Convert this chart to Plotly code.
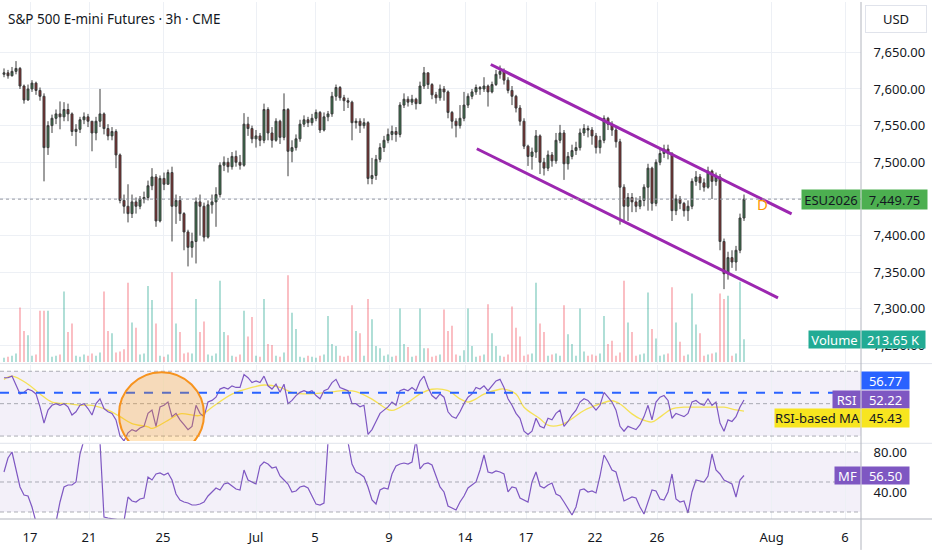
import plotly.graph_objects as go

# --- valores (barras de 3h) ---
first_open = 7620

closes = [
    7622, 7618, 7624, 7628, 7604, 7585, 7600, 7608, 7598, 7590,
    7520, 7550, 7560, 7566, 7562, 7572, 7566, 7542, 7545, 7558,
    7562, 7556, 7540, 7556, 7566, 7546, 7536, 7542, 7510, 7448,
    7440, 7430, 7446, 7440, 7450, 7452, 7468, 7480, 7420, 7478,
    7470, 7486, 7440, 7448, 7430, 7405, 7384, 7392, 7446, 7440,
    7398, 7442, 7446, 7456, 7496, 7500, 7494, 7508, 7500, 7496,
    7552, 7546, 7532, 7536, 7530, 7572, 7540, 7530, 7556, 7534,
    7572, 7515, 7520, 7532, 7552, 7558, 7554, 7560, 7568, 7544,
    7562, 7566, 7590, 7602, 7588, 7584, 7582, 7554, 7556, 7550,
    7554, 7478, 7482, 7504, 7520, 7530, 7538, 7542, 7538, 7578,
    7586, 7582, 7586, 7580, 7604, 7622, 7606, 7592, 7588, 7600,
    7596, 7568, 7556, 7550, 7560, 7578, 7590, 7596, 7602, 7600,
    7604, 7596, 7606, 7620, 7624, 7612, 7598, 7590, 7574, 7556,
    7522, 7508, 7514, 7536, 7500, 7492, 7510, 7502, 7530, 7540,
    7498, 7508, 7516, 7520, 7540, 7546, 7544, 7536, 7520, 7530,
    7560, 7552, 7544, 7528, 7466, 7440, 7452, 7446, 7440, 7448,
    7466, 7492, 7444, 7500, 7512, 7518, 7512, 7434, 7450, 7444,
    7434, 7440, 7474, 7480, 7472, 7466, 7488, 7474, 7480, 7392,
    7348, 7370, 7364, 7380, 7424, 7449.75,
]

highs = [
    7628, 7626, 7630, 7638, 7630, 7606, 7606, 7612, 7610, 7602,
    7594, 7556, 7565, 7572, 7583, 7582, 7580, 7568, 7552, 7562,
    7568, 7566, 7556, 7562, 7600, 7568, 7552, 7548, 7545, 7512,
    7456, 7470, 7456, 7452, 7454, 7460, 7475, 7492, 7484, 7482,
    7486, 7490, 7494, 7456, 7454, 7432, 7408, 7404, 7452, 7456,
    7445, 7448, 7456, 7466, 7500, 7508, 7506, 7514, 7516, 7510,
    7567, 7562, 7550, 7544, 7540, 7580, 7575, 7548, 7560, 7558,
    7594, 7574, 7530, 7538, 7558, 7564, 7562, 7566, 7572, 7570,
    7568, 7570, 7596, 7606, 7604, 7592, 7588, 7584, 7560, 7560,
    7560, 7556, 7506, 7510, 7526, 7536, 7546, 7550, 7548, 7582,
    7594, 7590, 7592, 7588, 7610, 7630, 7622, 7608, 7596, 7606,
    7604, 7598, 7570, 7560, 7578, 7596, 7594, 7600, 7606, 7604,
    7616, 7606, 7610, 7626, 7632, 7628, 7616, 7604, 7592, 7578,
    7560, 7524, 7520, 7544, 7538, 7506, 7516, 7514, 7540, 7551,
    7544, 7514, 7524, 7528, 7546, 7552, 7550, 7548, 7540, 7536,
    7564, 7562, 7556, 7548, 7532, 7470, 7458, 7458, 7452, 7454,
    7470, 7498, 7494, 7504, 7518, 7524, 7524, 7514, 7456, 7454,
    7446, 7448, 7478, 7488, 7484, 7478, 7494, 7490, 7486, 7484,
    7396, 7378, 7380, 7386, 7430, 7456,
]

lows = [
    7616, 7614, 7617, 7620, 7600, 7580, 7584, 7596, 7592, 7584,
    7474, 7510, 7540, 7552, 7545, 7556, 7556, 7536, 7522, 7540,
    7552, 7548, 7515, 7530, 7548, 7538, 7530, 7530, 7492, 7444,
    7430, 7418, 7424, 7430, 7436, 7444, 7448, 7462, 7412, 7418,
    7462, 7472, 7392, 7416, 7420, 7380, 7358, 7370, 7362, 7400,
    7392, 7396, 7430, 7412, 7452, 7488, 7486, 7490, 7494, 7490,
    7494, 7536, 7526, 7520, 7522, 7526, 7530, 7520, 7528, 7525,
    7530, 7481, 7500, 7516, 7528, 7548, 7548, 7550, 7556, 7540,
    7542, 7556, 7562, 7584, 7584, 7570, 7574, 7530, 7546, 7540,
    7546, 7470, 7470, 7476, 7500, 7514, 7526, 7530, 7528, 7534,
    7574, 7576, 7578, 7572, 7580, 7600, 7600, 7586, 7580, 7584,
    7584, 7560, 7546, 7534, 7546, 7556, 7574, 7586, 7592, 7592,
    7596, 7576, 7594, 7604, 7614, 7606, 7594, 7578, 7568, 7550,
    7518, 7495, 7490, 7506, 7484, 7482, 7488, 7494, 7498, 7526,
    7476, 7490, 7504, 7510, 7516, 7536, 7534, 7524, 7512, 7512,
    7526, 7544, 7536, 7520, 7415, 7420, 7420, 7432, 7432, 7436,
    7440, 7434, 7434, 7440, 7496, 7506, 7504, 7420, 7428, 7436,
    7426, 7420, 7436, 7468, 7462, 7460, 7464, 7450, 7468, 7380,
    7327, 7340, 7356, 7352, 7376, 7420,
]

# volume em milhares de contratos
volume_k = [
    40, 50, 60, 80, 510, 290, 250, 60, 70, 480,
    480, 480, 50, 60, 70, 660, 280, 360, 60, 50,
    70, 60, 80, 60, 90, 660, 290, 270, 90, 100,
    120, 740, 370, 320, 70, 80, 710, 580, 360, 60,
    50, 70, 840, 360, 280, 80, 90, 80, 590, 280,
    380, 70, 60, 80, 760, 280, 250, 60, 50, 70,
    480, 240, 420, 60, 50, 590, 170, 160, 60, 50,
    90, 810, 460, 310, 50, 40, 60, 50, 40, 60,
    70, 430, 170, 150, 60, 50, 60, 530, 290, 270,
    60, 590, 400, 150, 130, 60, 70, 50, 60, 500,
    170, 140, 50, 60, 500, 130, 130, 50, 60, 70,
    490, 290, 340, 70, 60, 110, 500, 150, 50, 60,
    70, 540, 270, 150, 60, 50, 70, 520, 320, 240,
    60, 70, 80, 740, 360, 280, 60, 70, 80, 60,
    530, 260, 170, 60, 500, 100, 60, 70, 60, 80,
    430, 170, 200, 60, 90, 760, 370, 280, 60, 70,
    80, 650, 310, 220, 60, 70, 80, 700, 370, 190,
    60, 70, 640, 350, 270, 60, 70, 80, 90, 640,
    590, 620, 60, 80, 750, 213.65,
]

rsi = [
    66, 66, 67, 62, 56, 57, 59, 58, 56, 48,
    38, 46, 49, 50, 49, 50, 48, 43, 45, 49,
    50, 47, 43, 50, 53, 47, 45, 44, 40, 30,
    27, 32, 34, 33, 35, 36, 44, 46, 36, 48,
    49, 51, 42, 44, 40, 37, 34, 36, 49, 44,
    42, 51, 52, 54, 59, 60, 59, 61, 60, 60,
    68, 66, 63, 64, 63, 67, 61, 59, 62, 57,
    62, 50, 52, 55, 57, 58, 57, 58, 55, 53,
    58, 59, 63, 65, 60, 59, 58, 50, 50, 48,
    49, 31, 34, 39, 44, 46, 48, 51, 49, 58,
    59, 58, 60, 58, 64, 67, 60, 55, 53, 56,
    54, 45, 42, 41, 45, 50, 54, 56, 60, 59,
    61, 58, 61, 64, 65, 60, 53, 49, 44, 41,
    33, 31, 33, 41, 36, 35, 41, 40, 44, 46,
    36, 39, 43, 46, 51, 53, 52, 49, 46, 49,
    57, 54, 51, 46, 36, 33, 36, 35, 34, 37,
    42, 49, 40, 51, 54, 55, 52, 41, 44, 43,
    42, 44, 51, 52, 50, 49, 53, 49, 51, 38,
    33, 40, 39, 42, 48, 52.22,
]

# media do RSI (linha amarela), lida em alguns pontos
rsi_ma_idx = [
    0, 2, 6, 9, 12, 16, 19, 22, 26, 29, 32, 36, 37, 41, 44, 49, 52, 57, 62, 65,
    69, 72, 76, 81, 85, 88, 92, 95, 97, 101, 104, 107, 111, 114, 116, 118, 120, 124, 125, 128,
    130, 134, 136, 139, 142, 145, 149, 152, 154, 157, 159, 162, 164, 167, 170, 174, 177, 180, 183, 185,
]
rsi_ma = [
    65, 67, 62, 56, 51, 50, 49, 49, 46, 42, 37.7, 35.7, 34.7, 39.7, 43.7, 42.7, 47.8, 55.9, 60, 61.5,
    60, 57, 56, 57, 58, 57.5, 52.8, 47.8, 45.8, 50.8, 56, 58.9, 58, 53, 51, 53, 55.9, 58.9, 59, 56,
    47.8, 40.7, 36.7, 36.7, 40.7, 45.8, 49.8, 51.8, 49.8, 43.7, 40.7, 38.7, 41.7, 46.8, 47.8, 47.8, 47.8, 47.8, 46.2, 45.43,
]

mf = [
    60, 74, 80, 62, 45, 37, 36, 25, 10, 6,
    4, 5, 7, 10, 30, 45, 47, 47, 50, 78,
    92, 95, 94, 96, 90, 15, 14, 13.5, 13, 12,
    11, 35, 31, 30, 33, 34, 55, 52, 58, 59,
    57, 59, 52, 38, 32, 30, 29, 27, 27, 28,
    30, 36, 40, 44, 42, 48, 49, 46, 43, 42,
    62, 52, 50, 48, 66, 70, 68, 64, 65, 56,
    52, 48, 40, 41, 45, 46, 44, 36, 28, 27,
    29, 90, 95, 96, 94, 95, 90, 68, 60, 58,
    55, 45, 32, 28, 42, 44, 43, 58, 66, 68,
    69, 68, 70, 92, 63, 68, 69, 67, 55, 45,
    40, 26, 24, 22, 30, 36, 44, 47, 50, 62,
    77, 60, 59, 61, 60, 58, 40, 45, 44, 34,
    32, 30, 50, 60, 46, 44, 47, 49, 38, 36,
    30, 24, 17, 25, 42, 43, 40, 41, 39, 56,
    77, 70, 62, 60, 45, 31, 33, 35, 34, 25,
    18, 30, 42, 41, 33, 32, 40, 58, 33, 30,
    31, 19, 40, 52, 51, 50, 56, 78, 62, 58,
    52, 50, 48, 35, 52, 56.5,
]

# eixo de tempo (posicao em barras) e rotulos
date_pos = [6.5, 21.25, 39.75, 63, 77.75, 96.25, 115.25, 130.5, 147.75, 163.25, 191.9, 210.25]
date_txt = ['17', '21', '25', 'Jul', '5', '9', '14', '17', '22', '26', 'Aug', '6']
price_ticks = [7250, 7300, 7350, 7400, 7450, 7500, 7550, 7600, 7650]
# 7,450 fica escondido atras do rotulo do ultimo preco
price_text = ['7,250.00', '7,300.00', '7,350.00', '7,400.00', '', '7,500.00', '7,550.00', '7,600.00', '7,650.00']

# canal de baixa desenhado (em barras / preco)
chan_up_x = [121.7, 196.9]
chan_up_y = [7633.4, 7429.6]
chan_lo_x = [118.2, 193.5]
chan_lo_y = [7518.5, 7315.1]

last_price = 7449.75
rsi_level = 56.77
last_rsi_ma = 45.43

# --- figura ---
W, H = 932, 550
PW, PH = 861, 519          # area de plotagem (px)
FONT = 'Noto Sans'

idx = list(range(len(closes)))
opens = [first_open] + closes[:-1]
highs = [max(h, o, c) for h, o, c in zip(highs, opens, closes)]
lows = [min(l, o, c) for l, o, c in zip(lows, opens, closes)]
vol_colors = ['rgba(8,153,129,0.5)' if c >= o else 'rgba(242,54,69,0.5)' for o, c in zip(opens, closes)]

fig = go.Figure(layout=go.Layout(width=W, height=H))

fig.add_trace(go.Bar(x=idx, y=[v * 1000 for v in volume_k], width=0.32,
                     marker=dict(color=vol_colors, line=dict(width=0)),
                     xaxis='x', yaxis='y2', hoverinfo='skip'))

fig.add_trace(go.Candlestick(x=idx, open=opens, high=highs, low=lows, close=closes,
                             increasing=dict(fillcolor='#3b7a4f', line=dict(color='#3c3c3c', width=1)),
                             decreasing=dict(fillcolor='#8a2c2c', line=dict(color='#3c3c3c', width=1)),
                             whiskerwidth=0, xaxis='x', yaxis='y', hoverinfo='skip'))

fig.add_trace(go.Scatter(x=chan_up_x, y=chan_up_y, mode='lines', line=dict(color='#9c27b0', width=3),
                         xaxis='x', yaxis='y', hoverinfo='skip'))
fig.add_trace(go.Scatter(x=chan_lo_x, y=chan_lo_y, mode='lines', line=dict(color='#9c27b0', width=3),
                         xaxis='x', yaxis='y', hoverinfo='skip'))

fig.add_trace(go.Scatter(x=rsi_ma_idx, y=rsi_ma, mode='lines', line=dict(color='#f5e156', width=1.3, shape='spline'),
                         xaxis='x', yaxis='y3', hoverinfo='skip'))
fig.add_trace(go.Scatter(x=idx, y=rsi, mode='lines', line=dict(color='#7e57c2', width=1.2),
                         xaxis='x', yaxis='y3', hoverinfo='skip'))
fig.add_trace(go.Scatter(x=idx, y=mf, mode='lines', line=dict(color='#7e57c2', width=1.2),
                         xaxis='x', yaxis='y4', hoverinfo='skip'))

grid = '#edf0f5'
fig.update_layout(
    margin=dict(l=0, r=W - PW, t=0, b=H - PH),
    paper_bgcolor='white', plot_bgcolor='white',
    showlegend=False, hovermode=False,
    font=dict(family=FONT, size=13, color='#131722'),
    xaxis=dict(range=[-1, 214.25], anchor='y4', tickvals=date_pos, ticktext=date_txt,
               showgrid=True, gridcolor=grid, zeroline=False, showline=False,
               ticks='outside', ticklen=0, ticklabelstandoff=6,
               rangeslider=dict(visible=False), tickfont=dict(size=13)),
    yaxis=dict(domain=[0.3025, 1], range=[7226.8, 7718.6], side='right', tickvals=price_ticks,
               ticktext=price_text, showgrid=True, gridcolor=grid, zeroline=False,
               ticks='outside', ticklen=0, ticklabelstandoff=9, tickfont=dict(size=13)),
    yaxis2=dict(overlaying='y', range=[-4650, 3361950], visible=False),
    yaxis3=dict(domain=[0.151, 0.298], range=[27.0, 73.9], showgrid=False, zeroline=False,
                showticklabels=False, side='right'),
    yaxis4=dict(domain=[0, 0.1445], range=[13.0, 87.7], side='right', tickvals=[40, 80],
                ticktext=['40.00', '80.00'], showgrid=False, zeroline=False,
                ticks='outside', ticklen=0, ticklabelstandoff=9, tickfont=dict(size=13)),
)

shapes = []
# faixas do RSI e do MF
shapes.append(dict(type='rect', xref='x domain', x0=0, x1=1, yref='y3', y0=30, y1=70,
                   fillcolor='rgba(126,87,194,0.09)', line=dict(width=0), layer='below'))
shapes.append(dict(type='rect', xref='x domain', x0=0, x1=1, yref='y4', y0=20, y1=80,
                   fillcolor='rgba(126,87,194,0.09)', line=dict(width=0), layer='below'))
for nivel in [70, 50, 30]:
    shapes.append(dict(type='line', xref='x domain', x0=0, x1=1, yref='y3', y0=nivel, y1=nivel,
                       line=dict(color='rgba(120,123,134,0.6)', width=1, dash='4px,3px')))
for nivel in [80, 50, 20]:
    shapes.append(dict(type='line', xref='x domain', x0=0, x1=1, yref='y4', y0=nivel, y1=nivel,
                       line=dict(color='rgba(120,123,134,0.6)', width=1, dash='4px,3px')))
# linha azul tracejada no RSI
shapes.append(dict(type='line', xref='x domain', x0=0, x1=833 / PW, yref='y3', y0=rsi_level, y1=rsi_level,
                   line=dict(color='#2962ff', width=2, dash='9px,9px')))
# preco atual pontilhado
shapes.append(dict(type='line', xref='x domain', x0=0, x1=1, yref='y', y0=last_price, y1=last_price,
                   line=dict(color='#9598a1', width=1, dash='dot')))
# circulo laranja no RSI
shapes.append(dict(type='circle', xref='x', x0=28.75, x1=50, yref='y3', y0=17.4, y1=69.4,
                   fillcolor='rgba(255,152,0,0.25)', line=dict(color='#f7931e', width=2)))
# separadores de paineis e bordas
for yp in [1 - 363 / PH, 1 - 443 / PH]:
    shapes.append(dict(type='line', xref='paper', x0=0, x1=W / PW, yref='paper', y0=yp, y1=yp,
                       line=dict(color='#e0e3eb', width=1)))
shapes.append(dict(type='line', xref='paper', x0=0, x1=W / PW, yref='paper', y0=0, y1=0,
                   line=dict(color='#b2b5be', width=1)))
shapes.append(dict(type='line', xref='paper', x0=1, x1=1, yref='paper', y0=-(H - PH) / PH, y1=1,
                   line=dict(color='#b2b5be', width=1)))
fig.update_layout(shapes=shapes)


def caixa(texto, x_px, anchor, y, yref, largura, altura, cor, cor_texto='white'):
    return dict(text=texto, xref='paper', x=x_px / PW, xanchor=anchor, yref=yref, y=y, yanchor='middle',
                showarrow=False, bgcolor=cor, width=largura, height=altura, borderpad=0,
                font=dict(family=FONT, size=13, color=cor_texto), align='center')


def py(pix):
    return 1 - pix / PH


annotations = [
    dict(text='S&P 500 E-mini Futures · 3h · CME', xref='paper', x=6 / PW, xanchor='left',
         yref='paper', y=py(17), yanchor='middle', showarrow=False,
         font=dict(family=FONT, size=13.5, color='#131722')),
    dict(text='USD', xref='paper', x=896 / PW, xanchor='center', yref='paper', y=py(17), yanchor='middle',
         showarrow=False, bgcolor='white', bordercolor='#e0e3eb', borderwidth=1, width=58, height=24,
         font=dict(family=FONT, size=13, color='#131722')),
    dict(text='D', xref='x', x=189.5, yref='y', y=7442.8, showarrow=False,
         font=dict(family=FONT, size=15, color='#ff9800')),
    caixa('ESU2026', PW, 'right', last_price, 'y', 58, 19, '#4caf50', '#131722'),
    caixa(f'{last_price:,.2f}', PW, 'left', last_price, 'y', 65, 19, '#4caf50', '#131722'),
    caixa('Volume', PW, 'right', volume_k[-1] * 1000, 'y2', 51, 17, '#22ab94'),
    caixa(f'{volume_k[-1]:.2f} K', PW, 'left', volume_k[-1] * 1000, 'y2', 63, 17, '#22ab94'),
    caixa(f'{rsi_level:.2f}', PW, 'left', py(380), 'paper', 47, 17, '#2962ff'),
    caixa('RSI', PW, 'right', py(399.5), 'paper', 27, 17, '#7e57c2'),
    caixa(f'{rsi[-1]:.2f}', PW, 'left', py(399.5), 'paper', 47, 17, '#7e57c2'),
    caixa('RSI-based MA', PW, 'right', py(417.5), 'paper', 85, 18, '#f7e51f', '#131722'),
    caixa(f'{last_rsi_ma:.2f}', PW, 'left', py(417.5), 'paper', 47, 18, '#f7e51f', '#131722'),
    caixa('MF', PW, 'right', py(475), 'paper', 25, 17, '#7e57c2'),
    caixa(f'{mf[-1]:.2f}', PW, 'left', py(475), 'paper', 47, 17, '#7e57c2'),
]
fig.update_layout(annotations=annotations)

# a pagina padrao tem margem de 8px no body; zera para casar com a janela
fig.write_html('out.html', config=dict(displayModeBar=False),
               post_script="document.body.style.margin='0';")
